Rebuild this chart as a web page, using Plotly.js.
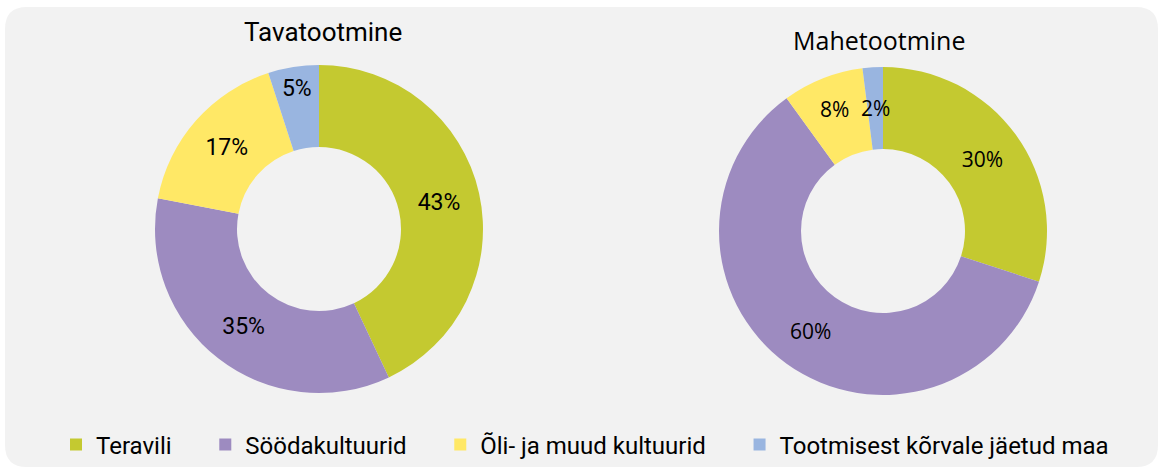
<!DOCTYPE html>
<html>
<head>
<meta charset="utf-8">
<script src="https://cdn.plot.ly/plotly-3.0.1.min.js"></script>
<style>html,body{margin:0;padding:0;background:#fff;}#chart{width:1163px;height:472px;}</style>
</head>
<body>
<div id="chart"></div>
<script>
var categories = ["Teravili", "Söödakultuurid", "Õli- ja muud kultuurid", "Tootmisest kõrvale jäetud maa"];
var conventional = [43, 35, 17, 5];
var organic = [30, 60, 8, 2];
var chartTitles = ["Tavatootmine", "Mahetootmine"];
var colors = ["#c4c930", "#9d8bc0", "#ffe866", "#99b5e0"];

var W = 1163, H = 472;
function px(x){ return x / W; }
function py(y){ return 1 - y / H; }

// legend labels padded so entries are spread like the reference
var legendLabels = categories.map(function(c){ return c + "\u00a0\u00a0\u00a0\u00a0\u2009"; });

var pies = [
  {values: conventional, box: [155, 65, 483, 393], font: "Roboto", size: 23, legend: true},
  {values: organic, box: [719, 67, 1047, 395], font: "Open Sans", size: 21, legend: false}
];
var HOLE = 0.5;
var SMALL = 4; // slices too thin for plotly's inside text: label drawn as annotation

var traces = [];
var extraAnnotations = [];
pies.forEach(function(p){
  var total = p.values.reduce(function(a, b){ return a + b; }, 0);
  var tmpl = p.values.map(function(v){ return v < SMALL ? "" : "%{percent:.0%}"; });
  traces.push({
    type: "pie", labels: legendLabels, values: p.values, sort: false,
    direction: "clockwise", rotation: 0, hole: HOLE,
    marker: {colors: colors, line: {width: 0}},
    texttemplate: tmpl, textposition: "inside",
    insidetextorientation: "horizontal",
    insidetextfont: {family: p.font, size: p.size, color: "#000"},
    domain: {x: [px(p.box[0]), px(p.box[2])], y: [py(p.box[3]), py(p.box[1])]},
    hoverinfo: "percent", showlegend: p.legend
  });
  var cx = (p.box[0] + p.box[2]) / 2, cy = (p.box[1] + p.box[3]) / 2;
  var R = (p.box[2] - p.box[0]) / 2, rm = R * (1 + HOLE) / 2;
  var cum = 0;
  p.values.forEach(function(v){
    var mid = (cum + v / 2) / total * 2 * Math.PI;
    cum += v;
    if (v < SMALL) {
      extraAnnotations.push({
        text: Math.round(v / total * 100) + "%",
        x: px(cx + rm * Math.sin(mid)), y: py(cy - rm * Math.cos(mid)),
        xref: "paper", yref: "paper", xanchor: "center", yanchor: "middle",
        showarrow: false, font: {family: p.font, size: p.size, color: "#000"}
      });
    }
  });
});

// rounded panel
var x0 = 5, y0 = 7, x1 = 1158, y1 = 467, r = 22;
var panelPath = "M" + px(x0 + r) + "," + py(y0) +
  " L" + px(x1 - r) + "," + py(y0) +
  " Q" + px(x1) + "," + py(y0) + " " + px(x1) + "," + py(y0 + r) +
  " L" + px(x1) + "," + py(y1 - r) +
  " Q" + px(x1) + "," + py(y1) + " " + px(x1 - r) + "," + py(y1) +
  " L" + px(x0 + r) + "," + py(y1) +
  " Q" + px(x0) + "," + py(y1) + " " + px(x0) + "," + py(y1 - r) +
  " L" + px(x0) + "," + py(y0 + r) +
  " Q" + px(x0) + "," + py(y0) + " " + px(x0 + r) + "," + py(y0) + " Z";

var layout = {
  width: W, height: H,
  margin: {l: 0, r: 0, t: 0, b: 0, pad: 0},
  paper_bgcolor: "#ffffff",
  plot_bgcolor: "rgba(0,0,0,0)",
  shapes: [{
    type: "path", path: panelPath, xref: "paper", yref: "paper",
    fillcolor: "#f2f2f2", line: {width: 0}, layer: "below"
  }],
  annotations: [
    {text: chartTitles[0], x: px(322.5), y: py(32), xref: "paper", yref: "paper",
     xanchor: "center", yanchor: "middle", showarrow: false,
     font: {family: "Roboto", size: 26, color: "#000", weight: 400}},
    {text: chartTitles[1], x: px(879), y: py(40), xref: "paper", yref: "paper",
     xanchor: "center", yanchor: "middle", showarrow: false,
     font: {family: "Open Sans", size: 25, color: "#000", weight: 400}}
  ].concat(extraAnnotations),
  showlegend: true,
  legend: {
    orientation: "h", x: px(56), xanchor: "left", y: py(445), yanchor: "middle",
    bgcolor: "rgba(0,0,0,0)", itemwidth: 30,
    font: {family: "Roboto", size: 24, color: "#000"},
    traceorder: "normal"
  }
};

Plotly.newPlot("chart", traces, layout, {displayModeBar: false, staticPlot: true});
</script>
</body>
</html>
